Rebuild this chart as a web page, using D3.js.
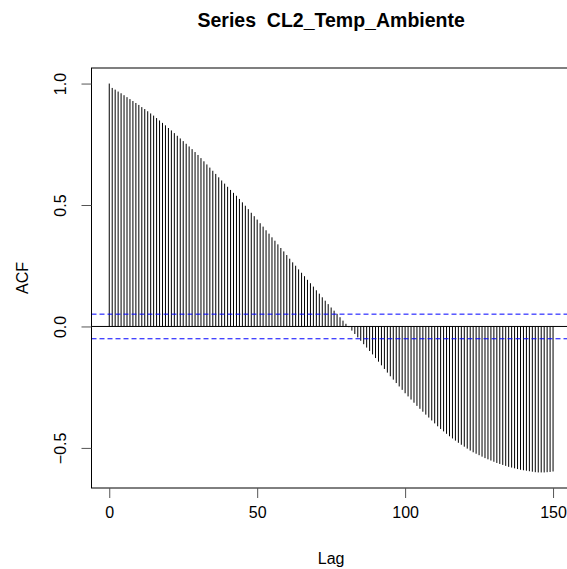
<!DOCTYPE html>
<html>
<head>
<meta charset="utf-8">
<script src="https://cdnjs.cloudflare.com/ajax/libs/d3/7.8.5/d3.min.js"></script>
<style>
  body { margin: 0; background: #fff; }
  svg { display: block; font-family: "Liberation Sans", Arial, sans-serif; }
</style>
</head>
<body>
<svg id="chart"></svg>
<script>
// ACF values, lag 0..150
const lags = d3.range(0, 151);
const acfValues = [
  1.000, 0.982, 0.975, 0.967, 0.960, 0.952, 0.944, 0.936, 0.928, 0.920,
  0.912, 0.903, 0.895, 0.886, 0.877, 0.868, 0.858, 0.848, 0.838, 0.828,
  0.817, 0.807, 0.796, 0.785, 0.774, 0.763, 0.752, 0.741, 0.730, 0.718,
  0.706, 0.693, 0.680, 0.667, 0.654, 0.641, 0.628, 0.614, 0.601, 0.588,
  0.575, 0.562, 0.550, 0.538, 0.525, 0.511, 0.497, 0.483, 0.468, 0.454,
  0.440, 0.425, 0.411, 0.396, 0.382, 0.367, 0.353, 0.338, 0.323, 0.309,
  0.294, 0.279, 0.264, 0.250, 0.235, 0.221, 0.207, 0.192, 0.178, 0.164,
  0.149, 0.135, 0.120, 0.106, 0.092, 0.078, 0.065, 0.052, 0.038, 0.024,
  0.011, -0.003, -0.017, -0.031, -0.045, -0.059, -0.073, -0.087, -0.101, -0.115,
  -0.130, -0.145, -0.160, -0.175, -0.190, -0.205, -0.219, -0.233, -0.247, -0.261,
  -0.275, -0.288, -0.301, -0.314, -0.327, -0.339, -0.351, -0.363, -0.375, -0.387,
  -0.399, -0.411, -0.422, -0.432, -0.442, -0.452, -0.461, -0.470, -0.479, -0.487,
  -0.495, -0.503, -0.511, -0.518, -0.524, -0.530, -0.536, -0.542, -0.547, -0.552,
  -0.557, -0.562, -0.566, -0.570, -0.574, -0.578, -0.581, -0.584, -0.587, -0.590,
  -0.592, -0.594, -0.596, -0.598, -0.600, -0.601, -0.601, -0.601, -0.600, -0.599,
  -0.597
];
const ciBound = 0.0507;            // +/- 1.96/sqrt(n)
const xTicks = [0, 50, 100, 150];
const yTicks = [-0.5, 0, 0.5, 1.0];
const titleText = "Series  CL2_Temp_Ambiente";
const xLabel = "Lag";
const yLabel = "ACF";

class AcfPlot {
  constructor(_config) {
    this.config = {
      parentElement: _config.parentElement,
      containerWidth: 567,
      containerHeight: 569,
      margin: { top: 68, left: 91.5, bottom: 81, width: 479.3 },
    };
    this.initVis();
  }

  initVis() {
    let vis = this;
    const m = vis.config.margin;

    vis.svg = d3.select(vis.config.parentElement)
      .attr("width", vis.config.containerWidth)
      .attr("height", vis.config.containerHeight);

    vis.width = m.width;
    vis.height = vis.config.containerHeight - m.top - m.bottom;

    vis.chart = vis.svg.append("g")
      .attr("transform", `translate(${m.left},${m.top})`);

    // R style: data range padded by 4% on each side
    const xr = d3.extent(lags);
    const xPad = (xr[1] - xr[0]) * 0.04;
    vis.xScale = d3.scaleLinear()
      .domain([xr[0] - xPad, xr[1] + xPad])
      .range([0, vis.width]);

    const yr = d3.extent(acfValues);
    const yPad = (yr[1] - yr[0]) * 0.04;
    vis.yScale = d3.scaleLinear()
      .domain([yr[0] - yPad, yr[1] + yPad])
      .range([vis.height, 0]);

    vis.renderVis();
  }

  renderVis() {
    let vis = this;
    const data = lags.map((l, i) => ({ lag: l, acf: acfValues[i] }));

    // spikes
    vis.chart.selectAll(".spike")
      .data(data)
      .join("line")
      .attr("class", "spike")
      .attr("x1", (d) => vis.xScale(d.lag))
      .attr("x2", (d) => vis.xScale(d.lag))
      .attr("y1", vis.yScale(0))
      .attr("y2", (d) => vis.yScale(d.acf))
      .attr("stroke", "#000")
      .attr("stroke-width", 1);

    // zero line
    vis.chart.append("line")
      .attr("x1", 0)
      .attr("x2", vis.width)
      .attr("y1", vis.yScale(0))
      .attr("y2", vis.yScale(0))
      .attr("stroke", "#000")
      .attr("stroke-width", 1);

    // confidence bounds
    vis.chart.selectAll(".ci")
      .data([ciBound, -ciBound])
      .join("line")
      .attr("class", "ci")
      .attr("x1", 0)
      .attr("x2", vis.width)
      .attr("y1", (d) => vis.yScale(d))
      .attr("y2", (d) => vis.yScale(d))
      .attr("stroke", "#0000ff")
      .attr("stroke-width", 1)
      .attr("stroke-dasharray", "5,3");

    // box
    vis.chart.append("rect")
      .attr("x", 0)
      .attr("y", 0)
      .attr("width", vis.width)
      .attr("height", vis.height)
      .attr("fill", "none")
      .attr("stroke", "#000")
      .attr("stroke-width", 1);

    const xAxis = d3.axisBottom(vis.xScale)
      .tickValues(xTicks)
      .tickSize(10)
      .tickPadding(9)
      .tickFormat(d3.format("d"));

    const yAxis = d3.axisLeft(vis.yScale)
      .tickValues(yTicks)
      .tickSize(10)
      .tickFormat((d) => d3.format(".1f")(d).replace("-", "\u2212"));

    const xAxisG = vis.chart.append("g")
      .attr("transform", `translate(0,${vis.height})`)
      .call(xAxis);
    xAxisG.select(".domain").remove();
    xAxisG.selectAll("text")
      .attr("font-size", 16)
      .attr("fill", "#000")
      .attr("font-family", "Liberation Sans, Arial, sans-serif");
    xAxisG.selectAll(".tick line").attr("stroke", "#555");

    const yAxisG = vis.chart.append("g").call(yAxis);
    yAxisG.select(".domain").remove();
    yAxisG.selectAll(".tick line").attr("stroke", "#555");
    yAxisG.selectAll("text")
      .attr("font-size", 16)
      .attr("fill", "#000")
      .attr("font-family", "Liberation Sans, Arial, sans-serif")
      .attr("x", 0)
      .attr("dy", 0)
      .attr("text-anchor", "middle")
      .attr("transform", "translate(-25.5,0) rotate(-90)");

    // title and axis titles
    vis.svg.append("text")
      .attr("x", vis.config.margin.left + vis.width / 2)
      .attr("y", 27)
      .attr("text-anchor", "middle")
      .attr("font-weight", "bold")
      .attr("font-size", 19.5)
      .style("white-space", "pre")
      .text(titleText);

    vis.svg.append("text")
      .attr("x", vis.config.margin.left + vis.width / 2)
      .attr("y", 564)
      .attr("text-anchor", "middle")
      .attr("font-size", 16)
      .text(xLabel);

    vis.svg.append("text")
      .attr("transform", `translate(28,${vis.config.margin.top + vis.height / 2}) rotate(-90)`)
      .attr("text-anchor", "middle")
      .attr("font-size", 16)
      .text(yLabel);
  }
}

new AcfPlot({ parentElement: "#chart" });
</script>
</body>
</html>
